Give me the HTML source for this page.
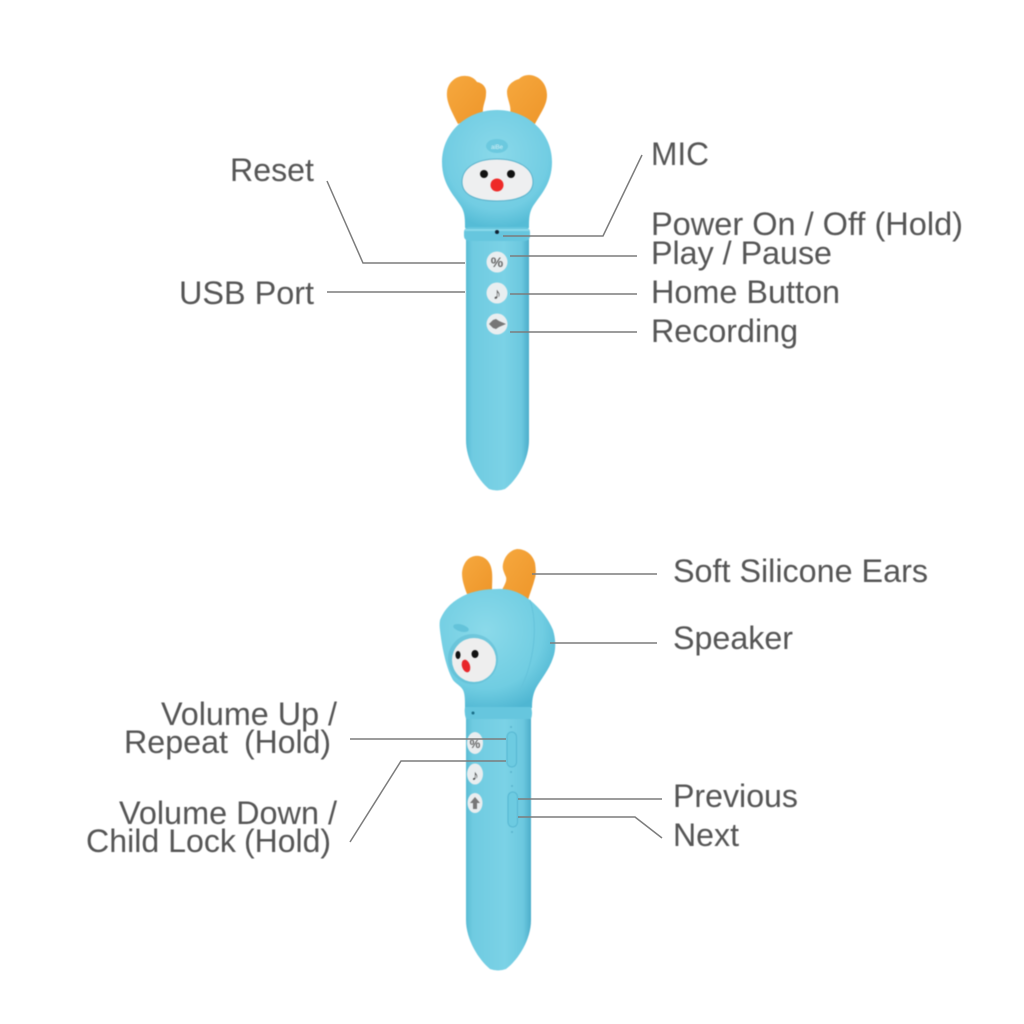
<!DOCTYPE html>
<html>
<head>
<meta charset="utf-8">
<style>
html,body{margin:0;padding:0;background:#fff;}
svg{display:block;}
text{font-family:"Liberation Sans","Noto Sans CJK SC",sans-serif;font-size:32.4px;fill:#555;}
.l{fill:none;stroke:#7c7c7c;stroke-width:1.5;}
.pen,.labels{filter:blur(.45px);}
</style>
</head>
<body>
<svg width="1024" height="1024" viewBox="0 0 1024 1024" xmlns="http://www.w3.org/2000/svg">
<defs>
<linearGradient id="body" x1="0" x2="1" y1="0" y2="0">
<stop offset="0" stop-color="#58bbd4"/><stop offset=".1" stop-color="#6fcbe1"/><stop offset=".6" stop-color="#7bd2e6"/><stop offset=".88" stop-color="#6cc8df"/><stop offset="1" stop-color="#4badca"/>
</linearGradient>
<radialGradient id="head" cx=".5" cy=".38" r=".62">
<stop offset="0" stop-color="#8ad9ea"/><stop offset=".75" stop-color="#72cde3"/><stop offset="1" stop-color="#55bcd6"/>
</radialGradient>
<radialGradient id="head2" cx=".4" cy=".35" r=".7">
<stop offset="0" stop-color="#8bdaea"/><stop offset=".7" stop-color="#70cde2"/><stop offset="1" stop-color="#4fb6d2"/>
</radialGradient>
<linearGradient id="ear" x1="0" x2="1" y1="0" y2="1">
<stop offset="0" stop-color="#f6a83e"/><stop offset="1" stop-color="#ee962a"/>
</linearGradient>
</defs>

<!-- Top pen -->
<g class="pen">
<path d="M458 124 C452 112 446 102 447 92 C448 81 458 75 466 76 C471 76 475 79 477 82 C483 83 487 88 486 94 C486 101 482 106 483 114 Z" fill="url(#ear)"/>
<path d="M535 124 C541 112 547 105 547 95 C547 83 538 75 529 75 C524 75 521 77 519 79 C512 81 507 86 507 92 C507 100 512 106 510 114 Z" fill="url(#ear)"/>
<path d="M466 238 L529 238 L529 440 C529 460 517 480 505 489 Q497 492 489 489 C478 480 466 460 466 440 Z" fill="url(#body)"/>
<path d="M497 110 C528 110 552 133 552 162 C552 186 538 197 532 208 C529 214 529 220 529 228 L465 228 C465 220 465 214 462 208 C456 197 442 186 442 162 C442 133 466 110 497 110 Z" fill="url(#head)"/>
<rect x="464" y="227" width="66" height="14" rx="5" fill="#66c6de"/>
<rect x="465" y="229" width="64" height="2" fill="#8ad9ea"/>
<ellipse cx="497" cy="146" rx="11" ry="7" fill="#6cc9df"/>
<text x="497" y="149" text-anchor="middle" style="font-size:6px;fill:#d8f2f8">aiBe</text>
<path d="M497 159 C518 159 533 168 533 182 C533 194 520 201 497 201 C474 201 462 194 462 182 C462 168 476 159 497 159 Z" fill="#eeeff0" stroke="#5bb2cb" stroke-width="1"/>
<circle cx="484" cy="174" r="4" fill="#111"/>
<circle cx="511" cy="174" r="4" fill="#111"/>
<circle cx="497" cy="185" r="6.5" fill="#ee2a28"/>
<circle cx="497" cy="232" r="2" fill="#123"/>
<circle cx="497" cy="262" r="10.5" fill="#e9eef0"/>
<text x="497" y="267" text-anchor="middle" style="font-size:14px;font-weight:bold;fill:#666">%</text>
<circle cx="497" cy="293" r="10.5" fill="#e9eef0"/>
<text x="497" y="299" text-anchor="middle" style="font-size:16px;fill:#555">♪</text>
<circle cx="497" cy="324" r="10.5" fill="#e9eef0"/>
<path d="M489 324 L493 320 L496 319 L499 321 L506 324 L499 327 L496 329 L493 328 Z" fill="#777"/>
</g>

<!-- Bottom pen -->
<g class="pen">
<path d="M467 594 C464 586 462 580 462 573 C463 563 468 557 475 556 C483 555 489 560 491 567 C493 574 492 581 492 590 Z" fill="url(#ear)"/>
<path d="M502 590 C505 584 507 581 506 577 C504 572 502 569 503 564 C505 555 511 550 517 549 C526 549 533 555 535 563 C536 570 536 575 535 578 C533 586 530 593 528 600 C520 600 510 596 502 590 Z" fill="url(#ear)"/>
<path d="M466 716 L531 716 L531 920 C531 940 518 960 506 969 Q498 972 490 969 C479 960 466 940 466 920 Z" fill="url(#body)"/>
<path d="M497 589 C512 588 522 594 530 600 C541 609 549 620 553 630 C556 640 556 650 553 658 C549 670 541 679 536 688 C533 694 532 700 532 708 L465 708 C465 700 465 694 463 690 C460 685 456 684 453 680 C447 670 443 652 441 638 C440 630 439 625 440 620 C445 608 452 602 463 596 C473 591 485 589 497 589 Z" fill="url(#head2)"/>
<path d="M530 600 C538 625 535 660 520 690" fill="none" stroke="#64c2da" stroke-width="1"/>
<path d="M465 707 L531 707 Q533 713 531 719 L466 719 Q464 713 465 707 Z" fill="#66c6de"/>
<ellipse cx="461" cy="628" rx="8" ry="3.5" fill="#64c3da" transform="rotate(15 461 628)"/>
<circle cx="473" cy="659" r="25" fill="#5cbad2" opacity=".55"/>
<circle cx="474" cy="660" r="22" fill="#eeeeee"/>
<ellipse cx="458" cy="655" rx="2.5" ry="4" fill="#111"/>
<ellipse cx="475" cy="654" rx="3.5" ry="4" fill="#111"/>
<ellipse cx="466" cy="666" rx="4" ry="6.5" fill="#e8262a" transform="rotate(-18 466 666)"/>
<circle cx="473" cy="713" r="1.5" fill="#1a6f88"/>
<ellipse cx="475" cy="743" rx="8" ry="11" fill="#e9edef"/>
<text x="475" y="748" text-anchor="middle" style="font-size:12px;font-weight:bold;fill:#666">%</text>
<ellipse cx="475" cy="774" rx="8" ry="10.5" fill="#e9edef"/>
<text x="475" y="780" text-anchor="middle" style="font-size:14px;fill:#444">♪</text>
<ellipse cx="475" cy="803" rx="7.5" ry="10" fill="#e9edef"/>
<path d="M475 797 L480 803 L477 803 L477 809 L473 809 L473 803 L470 803 Z" fill="#777"/>
<rect x="507" y="732" width="9.5" height="35" rx="4.7" fill="#6dcbe1" stroke="#55b6d1" stroke-width="1"/>
<rect x="508" y="792" width="9.5" height="35" rx="4.7" fill="#6dcbe1" stroke="#55b6d1" stroke-width="1"/>
<circle cx="511" cy="727" r="1" fill="#5ab4cc"/><circle cx="511" cy="772" r="1" fill="#5ab4cc"/>
<circle cx="512" cy="786" r="1" fill="#5ab4cc"/><circle cx="512" cy="832" r="1" fill="#5ab4cc"/>
</g>

<!-- Connector lines -->
<polyline class="l" points="327,181 363,263 465,263"/>
<line class="l" x1="327" y1="292" x2="465" y2="292"/>
<polyline class="l" points="642,155 603,236 503,236"/>
<line class="l" x1="510" y1="256" x2="637" y2="256"/>
<line class="l" x1="510" y1="294" x2="637" y2="294"/>
<line class="l" x1="510" y1="332" x2="637" y2="332"/>
<line class="l" x1="532" y1="574" x2="657" y2="574"/>
<line class="l" x1="550" y1="643" x2="657" y2="643"/>
<line class="l" x1="350" y1="739" x2="506" y2="739"/>
<polyline class="l" points="350,842 401,761 506,761"/>
<line class="l" x1="518" y1="799" x2="662" y2="799"/>
<polyline class="l" points="518,817 635,817 662,838"/>

<!-- Labels -->
<g class="labels">
<text x="230" y="181" textLength="84" lengthAdjust="spacingAndGlyphs">Reset</text>
<text x="179" y="304" textLength="135" lengthAdjust="spacingAndGlyphs">USB Port</text>
<text x="651" y="165" textLength="58" lengthAdjust="spacingAndGlyphs">MIC</text>
<text x="651" y="235" textLength="312" lengthAdjust="spacingAndGlyphs">Power On / Off (Hold)</text>
<text x="651" y="264" textLength="181" lengthAdjust="spacingAndGlyphs">Play / Pause</text>
<text x="651" y="303" textLength="189" lengthAdjust="spacingAndGlyphs">Home Button</text>
<text x="651" y="342" textLength="147" lengthAdjust="spacingAndGlyphs">Recording</text>
<text x="673" y="582" textLength="255" lengthAdjust="spacingAndGlyphs">Soft Silicone Ears</text>
<text x="673" y="649" textLength="120" lengthAdjust="spacingAndGlyphs">Speaker</text>
<text x="161" y="725" textLength="176" lengthAdjust="spacingAndGlyphs">Volume Up /</text>
<text x="124" y="753" textLength="104" lengthAdjust="spacingAndGlyphs">Repeat</text>
<text x="244" y="753" textLength="87" lengthAdjust="spacingAndGlyphs">(Hold)</text>
<text x="119" y="824" textLength="218" lengthAdjust="spacingAndGlyphs">Volume Down /</text>
<text x="86" y="852" textLength="150" lengthAdjust="spacingAndGlyphs">Child Lock</text>
<text x="244" y="852" textLength="87" lengthAdjust="spacingAndGlyphs">(Hold)</text>
<text x="673" y="807" textLength="125" lengthAdjust="spacingAndGlyphs">Previous</text>
<text x="673" y="846" textLength="66" lengthAdjust="spacingAndGlyphs">Next</text>
</g>
</svg>
</body>
</html>
